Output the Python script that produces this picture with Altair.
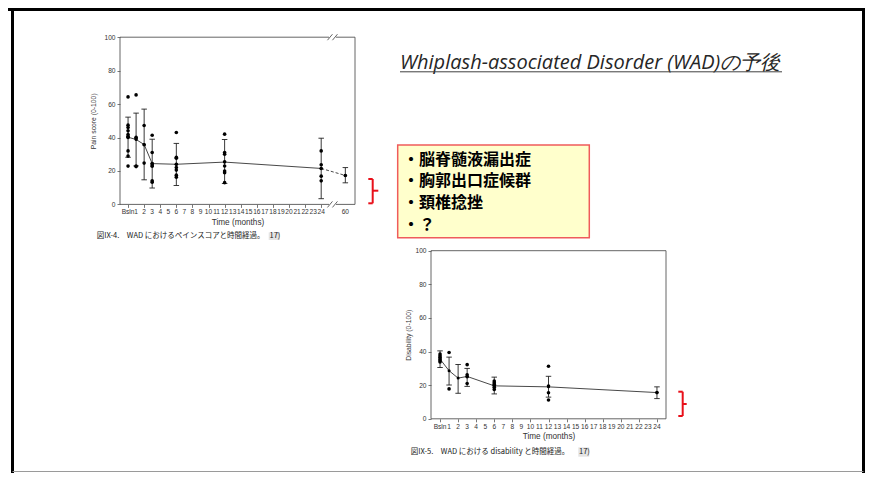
import json
import altair as alt
import pandas as pd

W, H = 857, 465  # whole slide area (page minus the 8px margin)

# ---------------- Figure IX-4 : pain score ----------------
pain_tick_month = list(range(0, 25)) + [60]
pain_tick_pos = list(range(0, 25)) + [27]          # 60 months is drawn after the axis break
pain_tick_text = ["Bsln"] + [str(m) for m in range(1, 25)] + ["60"]

pain_pt_month = [0] * 10 + [1] * 5 + [2] * 3 + [3] * 7 + [6] * 8 + [12] * 8 + [24] * 5 + [60]
pain_pt_value = [64.3, 47.4, 46.0, 44.0, 41.8, 40.8, 40.0, 32.0, 28.9, 22.9,
                 65.5, 40.2, 39.4, 23.0, 22.6,
                 47.2, 35.7, 24.7,
                 41.4, 31.0, 24.5, 23.5, 22.8, 14.1, 13.3,
                 43.0, 28.2, 27.6, 24.0, 22.0, 20.5, 17.5, 16.3,
                 42.0, 31.0, 30.0, 25.5, 23.0, 20.0, 19.0, 13.0,
                 32.0, 23.7, 21.5, 16.9, 14.1,
                 17.3]
pain_sum_month = [0, 1, 2, 3, 6, 12, 24, 60]
pain_mean = [40.2, 38.8, 35.8, 24.4, 24.0, 25.3, 21.5, 17.3]
pain_hi = [52.2, 54.6, 57.0, 39.0, 36.5, 38.8, 39.6, 22.0]
pain_lo = [28.2, 23.0, 14.7, 9.8, 11.3, 12.5, 3.4, 12.9]
pain_xdomain = [-1, 28.2]
pain_break = [25.09, 25.71]

# ---------------- Figure IX-5 : disability ----------------
dis_tick_pos = list(range(0, 25))
dis_tick_text = ["Bsln"] + [str(m) for m in range(1, 25)]
dis_pt_month = [0] * 6 + [1] * 2 + [3] * 4 + [6] * 6 + [12] * 4 + [24]
dis_pt_value = [38.5, 37.5, 36.6, 35.6, 34.6, 33.8,
                39.4, 17.8,
                32.2, 26.2, 25.0, 21.0,
                22.5, 21.5, 20.6, 19.8, 18.8, 17.5,
                31.3, 19.5, 15.5, 11.2,
                15.6]
dis_sum_month = [0, 1, 2, 3, 6, 12, 24]
dis_mean = [35.5, 28.6, 24.2, 25.2, 19.6, 19.0, 15.6]
dis_hi = [40.4, 36.7, 32.3, 30.0, 24.8, 25.3, 19.0]
dis_lo = [30.5, 20.1, 15.2, 19.3, 14.8, 12.9, 12.0]
dis_xdomain = [-1, 25]

y_ticks = [0, 20, 40, 60, 80, 100]

# ---------------- slide texts ----------------
slide_title = "Whiplash-associated Disorder (WAD)の予後"
box_lines = ["・脳脊髄液漏出症", "・胸郭出口症候群", "・頚椎捻挫", "・？"]
caption1 = "図IX-4.　WAD におけるペインスコアと時間経過。"
caption2 = "図IX-5.　WAD における disability と時間経過。"
caption_ref = "17)"

# ---------------- tables ----------------
pos_of = dict(zip(pain_tick_month, pain_tick_pos))
pain_pts = pd.DataFrame({"pos": [pos_of[m] for m in pain_pt_month], "v": pain_pt_value})
pain_sum = pd.DataFrame({"pos": [pos_of[m] for m in pain_sum_month], "mean": pain_mean,
                         "lo": pain_lo, "hi": pain_hi})
dis_pts = pd.DataFrame({"pos": dis_pt_month, "v": dis_pt_value})
dis_sum = pd.DataFrame({"pos": dis_sum_month, "mean": dis_mean, "lo": dis_lo, "hi": dis_hi})

AX_FONT = "Liberation Sans"
INK = "#222222"
LABEL_SIZE = 6.6


def x_axis(values, y_px):
    return alt.Axis(orient="bottom", offset=y_px - H, values=values, labels=False,
                    domain=False, grid=False, tickSize=3, tickColor="#555", tickWidth=0.8,
                    title="Time (months)", titleFont=AX_FONT, titleFontSize=8.2,
                    titleFontWeight="normal", titleColor="#333", titlePadding=10.6)


def y_axis(x_px, title, pad):
    return alt.Axis(orient="left", offset=-x_px, values=y_ticks,
                    domain=False, grid=False, tickSize=3, tickColor="#555", tickWidth=0.8,
                    labelFont=AX_FONT, labelFontSize=LABEL_SIZE, labelColor="#333", labelPadding=2,
                    labelOverlap=False, labelFlush=False, labelBound=False,
                    title=title, titleFont=AX_FONT, titleFontSize=6.8,
                    titleFontWeight="normal", titleColor="#333", titlePadding=pad)


def panel(pts, summ, xdomain, xrange, yrange, tick_pos, tick_text, ytitle, ypad, label_dy,
          dashed_after=None, breaks=None):
    sx = alt.Scale(domain=xdomain, range=xrange, nice=False, zero=False)
    sy = alt.Scale(domain=[0, 100], range=yrange, nice=False, zero=False)

    def X(f, **kw):
        return alt.X(f, scale=sx, **kw)

    def Y(f, **kw):
        return alt.Y(f, scale=sy, **kw)

    frame_df = pd.DataFrame({"x0": [xdomain[0]], "x1": [xdomain[1]], "y0": [0], "y1": [100]})
    layers = [alt.Chart(frame_df).mark_rect(fillOpacity=0, stroke="#555", strokeWidth=0.9).encode(
        x=X("x0:Q"), x2="x1", y=Y("y0:Q"), y2="y1")]

    if breaks:
        gap_df = pd.DataFrame([{"a": breaks[0] - 0.12, "b": breaks[1] + 0.12, "y": yb} for yb in (0, 100)])
        sl_df = pd.DataFrame([{"a": c - 0.31, "b": c + 0.31, "y": yb - 1.8, "y2": yb + 1.8}
                              for yb in (0, 100) for c in breaks])
        layers.append(alt.Chart(gap_df).mark_rule(color="white", strokeWidth=3).encode(
            x=X("a:Q"), x2="b", y=Y("y:Q")))
        layers.append(alt.Chart(sl_df).mark_rule(color="#555", strokeWidth=0.9).encode(
            x=X("a:Q"), x2="b", y=Y("y:Q"), y2="y2"))

    # x tick labels (month names), placed through the x scale just under the axis
    lab_df = pd.DataFrame({"pos": tick_pos, "lab": tick_text})
    layers.append(alt.Chart(lab_df).mark_text(font=AX_FONT, fontSize=LABEL_SIZE, color="#333",
                                              baseline="middle", align="center").encode(
        x=X("pos:Q"), y=alt.value(yrange[0] + label_dy), text="lab:N"))

    layers.append(alt.Chart(summ).mark_rule(color=INK, strokeWidth=0.9).encode(
        x=X("pos:Q"), y=Y("lo:Q"), y2="hi"))
    for f in ("lo", "hi"):
        layers.append(alt.Chart(summ).mark_tick(orient="horizontal", size=5.5, thickness=0.9,
                                               color=INK, opacity=1).encode(x=X("pos:Q"), y=Y(f + ":Q")))
    if dashed_after is None:
        layers.append(alt.Chart(summ).mark_line(color="#333", strokeWidth=0.9).encode(
            x=X("pos:Q"), y=Y("mean:Q")))
    else:
        layers.append(alt.Chart(summ).transform_filter(alt.datum.pos <= dashed_after).mark_line(
            color="#333", strokeWidth=0.9).encode(x=X("pos:Q"), y=Y("mean:Q")))
        layers.append(alt.Chart(summ).transform_filter(alt.datum.pos >= dashed_after).mark_line(
            color="#333", strokeWidth=0.9, strokeDash=[3, 2]).encode(x=X("pos:Q"), y=Y("mean:Q")))
    layers.append(alt.Chart(summ).mark_circle(size=9, color="black", opacity=1).encode(
        x=X("pos:Q"), y=Y("mean:Q")))
    layers.append(alt.Chart(pts).mark_circle(size=13, color="black", opacity=1).encode(
        x=X("pos:Q", axis=x_axis(tick_pos, yrange[0])),
        y=Y("v:Q", axis=y_axis(xrange[0], ytitle, ypad))))
    return alt.layer(*layers)


chart1 = panel(pain_pts, pain_sum, pain_xdomain, [112, 347], [196.4, 29.2],
               pain_tick_pos, pain_tick_text, "Pain score (0-100)", 7.5, 7.9,
               dashed_after=24, breaks=pain_break)
chart2 = panel(dis_pts, dis_sum, dis_xdomain, [423, 658], [410.8, 242.7],
               dis_tick_pos, dis_tick_text, "Disability (0-100)", 3.2, 8.4)

one = pd.DataFrame({"k": [0]})


def text(t, x, y, baseline="middle", **kw):
    return alt.Chart(one).mark_text(align="left", baseline=baseline, **kw).encode(
        x=alt.value(x), y=alt.value(y), text=alt.value(t))


def rect(x, x2, y, y2, **kw):
    return alt.Chart(one).mark_rect(**kw).encode(
        x=alt.value(x), x2=alt.value(x2), y=alt.value(y), y2=alt.value(y2))


def segs(rows, **kw):
    return alt.Chart(pd.DataFrame(rows, columns=["x", "y", "x2", "y2"])).mark_rule(**kw).encode(
        x=alt.X("x:Q", scale=None, axis=None), y=alt.Y("y:Q", scale=None, axis=None),
        x2="x2", y2="y2")


# slide frame
frame = segs([(4.5, 0, 4.5, 465), (0, 1.5, 857, 1.5), (855.5, 0, 855.5, 465)],
             color="black", strokeWidth=3)
frame_bottom = segs([(4.5, 463.5, 855.5, 463.5)], color="#9a9a9a", strokeWidth=1)

# title + underline
title = text(slide_title, 392, 61, baseline="alphabetic", font="Open Sans", fontStyle="italic",
             fontSize=20, color="#262626")
underline = segs([(392, 63.8, 774, 63.8)], color="#404040", strokeWidth=1)

# yellow box
ybox = rect(389.7, 581.3, 137, 229.7, fill="#FFFFCC", stroke="#EF5B5B", strokeWidth=1.5)
box_texts = [text(t, 395, y, font="Noto Sans CJK JP", fontWeight="bold", fontSize=16, color="black")
             for t, y in zip(box_lines, [151.6, 173.4, 195.2, 217])]

# captions
cap_layers = [
    rect(260.7, 272, 224.3, 232, fill="#e4e4e4"),
    text(caption1, 88.7, 228, font="Noto Sans CJK JP", fontSize=7.5, color="#1a1a1a"),
    text(caption_ref, 261.5, 228, font="Noto Sans CJK JP", fontSize=7.5, color="#1a1a1a"),
    rect(570.3, 581.3, 439.3, 448.7, fill="#e4e4e4"),
    text(caption2, 402.7, 444, font="Noto Sans CJK JP", fontSize=7.5, color="#1a1a1a"),
    text(caption_ref, 571, 444, font="Noto Sans CJK JP", fontSize=7.5, color="#1a1a1a"),
]


# red brackets
def bracket(xl, xv, xr, yt, ym, yb):
    return [(xl, yt, xv, yt), (xv, yt, xv, yb), (xv, ym, xr, ym), (xl, yb, xv, yb)]


brackets = segs(bracket(360.3, 364.7, 370.3, 171, 182.7, 195.3) +
                bracket(670.3, 674.7, 678.7, 383.7, 396, 408),
                color="#E8101A", strokeWidth=2)

chart = alt.layer(
    frame, frame_bottom, title, underline, ybox, *box_texts, *cap_layers, brackets,
    chart1, chart2,
).resolve_scale(x="independent", y="independent").properties(
    width=W, height=H, autosize=alt.AutoSizeParams(type="none"), padding=0, background="white"
).configure_view(stroke="transparent")

chart.save("out.html", embed_options={"renderer": "svg", "actions": False})
